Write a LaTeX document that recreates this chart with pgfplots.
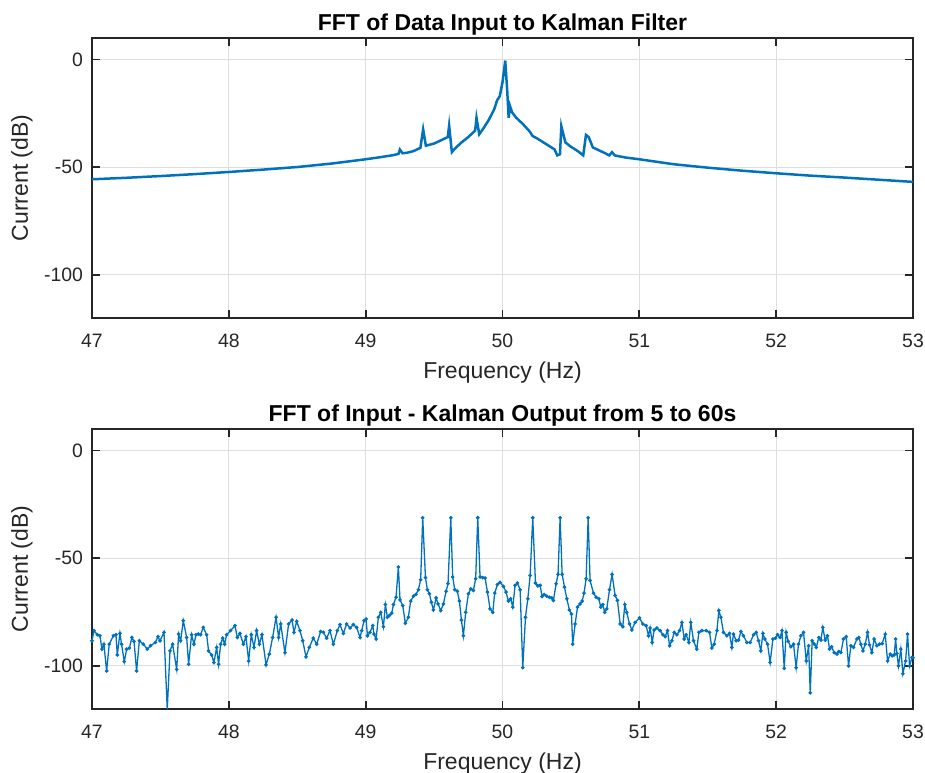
\documentclass[border=0pt]{standalone}
\usepackage{fontspec}
\setmainfont{Liberation Sans}
\usepackage{pgfplots}
\pgfplotsset{compat=1.18}
\definecolor{mblue}{RGB}{0,114,189}
\definecolor{axgray}{RGB}{38,38,38}
\definecolor{gridgray}{RGB}{222,222,222}
\pgfplotsset{mystyle/.style={
  scale only axis, width=410.5pt, height=140pt,
  xmin=47, xmax=53, ymin=-120, ymax=10,
  xtick={47,48,49,50,51,52,53}, ytick={-100,-50,0},
  grid=major, major grid style={gridgray, line width=0.5pt},
  axis line style={axgray, line width=0.9pt},
  tick style={axgray, line width=0.9pt},
  major tick length=4pt, tick align=inside, tick pos=both,
  /pgf/number format/assume math mode=true,
  tick label style={font=\fontsize{9.7}{11}\selectfont, text=axgray},
  xticklabel style={anchor=base, yshift=-14.5pt},
  yticklabel style={xshift=-1pt},
  label style={font=\fontsize{11.5}{13}\selectfont, text=axgray},
  xlabel={Frequency (Hz)}, ylabel={Current (dB)},
  xlabel style={at={(axis description cs:0.5,0)}, anchor=base, yshift=-30pt},
  ylabel style={at={(axis description cs:-0.0853,0.5)}, anchor=center},
  title style={font=\bfseries\fontsize{11.5}{13}\selectfont, at={(axis description cs:0.5,1)}, anchor=base, yshift=-2pt},
}}
\begin{document}
\begin{tikzpicture}
\path[use as bounding box] (-46pt,19pt) rectangle (416.5pt,-367pt);
\begin{axis}[mystyle, at={(0,0)}, anchor=north west,
  title={FFT of Data Input to Kalman Filter}]
\addplot[mblue, line width=1.25pt] coordinates {
(47.0,-55.6) (47.25,-54.9) (47.5,-54.1) (47.75,-53.2) (48.0,-52.2) (48.25,-51.1)
(48.5,-49.9) (48.75,-48.3) (49.0,-46.3) (49.1,-45.4) (49.2,-44.4) (49.24,-43.8)
(49.25,-41.8) (49.27,-43.5) (49.3,-43.3) (49.35,-42.5) (49.4,-41.0) (49.42,-32.4)
(49.44,-40.0) (49.5,-39.0) (49.55,-37.5) (49.6,-36.0) (49.61,-30.6) (49.63,-43.0)
(49.65,-41.5) (49.7,-38.5) (49.75,-36.0) (49.8,-33.0) (49.81,-27.0) (49.83,-34.7)
(49.86,-32.0) (49.9,-28.0) (49.94,-23.0) (49.96,-19.0) (49.98,-17.0) (50.0,-10.5)
(50.02,-0.5) (50.035,-15.0) (50.045,-27.0) (50.055,-21.6) (50.07,-24.5) (50.1,-27.0)
(50.15,-30.0) (50.2,-33.5) (50.22,-35.5) (50.25,-36.5) (50.3,-38.5) (50.35,-40.5)
(50.38,-41.7) (50.40,-44.5) (50.42,-44.0) (50.43,-30.9) (50.46,-38.5) (50.5,-40.5)
(50.55,-42.5) (50.59,-44.5) (50.61,-35.0) (50.63,-36.0) (50.66,-40.8) (50.7,-42.0)
(50.75,-43.5) (50.78,-44.5) (50.8,-43.0) (50.82,-44.5) (50.9,-45.5) (51.0,-46.3)
(51.25,-48.6) (51.5,-50.2) (51.75,-51.6) (52.0,-52.8) (52.25,-53.9) (52.5,-54.8)
(52.75,-55.8) (53.0,-56.8)
};
\end{axis}
\begin{axis}[mystyle, at={(0,-195.5pt)}, anchor=north west,
  title={FFT of Input - Kalman Output from 5 to 60s}]
\addplot[mblue, line width=0.65pt, mark=*, mark size=0.55pt, mark options={mblue}] coordinates {
(47.000,-88.3) (47.014,-83.6) (47.039,-85.5) (47.058,-86.0) (47.073,-92.2) (47.087,-89.9)
(47.107,-102.3) (47.126,-89.9) (47.156,-86.0) (47.175,-85.5) (47.185,-94.9) (47.204,-84.9)
(47.216,-89.9) (47.236,-98.0) (47.253,-92.2) (47.273,-91.7) (47.292,-86.8) (47.307,-88.6)
(47.326,-102.3) (47.346,-88.3) (47.375,-89.9) (47.404,-92.2) (47.428,-90.6) (47.463,-89.1)
(47.482,-86.4) (47.497,-88.3) (47.526,-84.4) (47.550,-120.2) (47.570,-93.0) (47.589,-89.9)
(47.619,-101.6) (47.633,-85.2) (47.648,-88.3) (47.667,-79.0) (47.692,-86.8) (47.706,-99.2)
(47.728,-85.5) (47.745,-89.9) (47.760,-85.5) (47.777,-85.2) (47.794,-85.5) (47.813,-82.1)
(47.838,-85.5) (47.852,-93.0) (47.874,-94.9) (47.891,-98.4) (47.911,-91.4) (47.925,-99.2)
(47.940,-89.9) (47.955,-87.1) (47.969,-89.9) (47.984,-85.5) (48.013,-83.6) (48.045,-81.3)
(48.062,-86.8) (48.081,-84.9) (48.106,-89.9) (48.125,-86.4) (48.145,-97.7) (48.164,-85.5)
(48.184,-91.4) (48.203,-83.6) (48.223,-89.9) (48.242,-85.5) (48.272,-99.5) (48.296,-94.5)
(48.320,-86.8) (48.345,-77.4) (48.364,-86.8) (48.379,-80.5) (48.410,-93.8) (48.437,-80.5)
(48.462,-78.7) (48.476,-84.4) (48.496,-79.3) (48.520,-83.6) (48.540,-88.3) (48.564,-95.8)
(48.588,-91.4) (48.617,-87.1) (48.642,-89.9) (48.671,-84.0) (48.691,-84.4) (48.715,-87.1)
(48.739,-83.6) (48.764,-89.9) (48.793,-83.6) (48.812,-80.8) (48.837,-84.9) (48.861,-80.5)
(48.886,-82.4) (48.910,-80.8) (48.934,-82.1)
(48.959,-86.8) (48.971,-83.6) (48.988,-79.0) (49.003,-78.2) (49.013,-86.0) (49.032,-84.4)
(49.052,-81.3) (49.061,-85.2) (49.076,-87.5) (49.093,-77.4) (49.110,-75.1) (49.130,-81.8)
(49.144,-71.5) (49.159,-77.4) (49.173,-76.6) (49.190,-75.5) (49.203,-71.5) (49.222,-68.1)
(49.239,-54.1) (49.251,-69.3) (49.271,-72.0) (49.290,-80.2) (49.312,-77.4) (49.329,-69.9)
(49.349,-67.6) (49.368,-66.8) (49.385,-64.6) (49.402,-60.0) (49.417,-31.2) (49.437,-59.0)
(49.451,-64.6) (49.466,-66.5) (49.480,-70.4) (49.495,-74.0) (49.515,-68.4) (49.529,-71.2)
(49.549,-74.3) (49.568,-71.2) (49.588,-65.3) (49.602,-61.8) (49.622,-31.2) (49.636,-58.7)
(49.651,-64.6) (49.670,-65.3) (49.685,-69.9) (49.700,-78.7) (49.714,-86.0) (49.731,-75.1)
(49.751,-66.5) (49.768,-64.2) (49.787,-65.0) (49.804,-59.5) (49.819,-31.2) (49.836,-58.7)
(49.856,-59.0) (49.873,-59.2) (49.890,-65.7) (49.909,-73.5) (49.929,-75.1) (49.943,-66.2)
(49.963,-62.2) (49.982,-61.2) (50.007,-63.1) (50.026,-65.7) (50.043,-69.9) (50.060,-68.8)
(50.075,-72.7) (50.092,-62.6) (50.109,-61.5) (50.129,-64.6) (50.148,-100.8) (50.168,-77.4)
(50.185,-68.8) (50.202,-58.0) (50.221,-31.2) (50.241,-61.5) (50.258,-62.8) (50.275,-62.6)
(50.289,-67.8) (50.304,-66.8) (50.323,-67.6) (50.343,-68.1) (50.360,-68.4) (50.372,-69.6)
(50.392,-61.8) (50.406,-57.5) (50.421,-31.2) (50.436,-57.5) (50.453,-63.4) (50.470,-68.8)
(50.489,-74.0) (50.504,-75.9) (50.513,-89.9) (50.531,-80.5) (50.548,-72.7) (50.567,-71.2)
(50.582,-69.9) (50.596,-66.2) (50.611,-59.5) (50.626,-31.2) (50.640,-60.3) (50.665,-66.2)
(50.684,-68.1) (50.704,-68.8) (50.718,-72.7) (50.733,-71.5) (50.747,-75.1) (50.762,-73.5)
(50.782,-64.6) (50.801,-57.5) (50.823,-67.3) (50.840,-69.6) (50.860,-80.5) (50.879,-81.8)
(50.894,-71.5) (50.908,-75.1) (50.928,-80.5) (50.945,-83.3) (50.969,-79.8) (51.001,-77.7)
(51.026,-80.5) (51.050,-81.3) (51.067,-86.0) (51.079,-82.4) (51.094,-89.1) (51.108,-83.3)
(51.128,-82.4) (51.152,-83.6) (51.172,-85.5) (51.189,-86.4) (51.206,-83.6) (51.221,-90.6)
(51.238,-88.3) (51.255,-84.4) (51.274,-85.5) (51.294,-83.6) (51.311,-79.8) (51.328,-87.5)
(51.342,-85.5) (51.362,-89.1) (51.376,-79.8) (51.396,-88.3) (51.420,-92.2) (51.435,-84.4)
(51.457,-83.6) (51.489,-83.6) (51.513,-84.4) (51.530,-91.7) (51.547,-89.9) (51.567,-83.6)
(51.581,-74.3) (51.596,-77.4) (51.615,-84.4) (51.640,-86.0) (51.659,-84.9) (51.676,-91.4)
(51.688,-85.2) (51.708,-88.3) (51.725,-88.0) (51.742,-84.0) (51.761,-86.0) (51.786,-89.1)
(51.810,-89.1) (51.835,-85.5) (51.854,-84.4) (51.871,-88.3) (51.888,-93.0) (51.903,-84.9)
(51.917,-87.5) (51.937,-89.9) (51.956,-98.4) (51.976,-87.5) (51.995,-87.1) (52.010,-85.5)
(52.029,-86.8) (52.042,-83.6) (52.059,-101.1) (52.073,-84.4) (52.088,-88.6) (52.107,-91.1)
(52.127,-89.9) (52.146,-100.8) (52.163,-89.9) (52.181,-86.0) (52.200,-84.4) (52.220,-97.7)
(52.237,-90.6) (52.249,-112.5) (52.263,-88.3) (52.278,-89.9) (52.293,-91.4) (52.312,-86.8)
(52.327,-88.0) (52.341,-82.1) (52.358,-88.0) (52.375,-86.0) (52.390,-92.2) (52.405,-91.1)
(52.424,-93.8) (52.444,-94.5) (52.458,-93.3) (52.473,-93.8) (52.492,-87.5) (52.512,-86.4)
(52.529,-100.0) (52.546,-90.6) (52.565,-91.4) (52.590,-87.5) (52.604,-86.8) (52.619,-89.9)
(52.634,-93.0) (52.651,-89.9) (52.668,-84.4) (52.682,-90.2) (52.699,-93.8) (52.716,-87.5)
(52.736,-90.6) (52.755,-89.9) (52.775,-89.6) (52.797,-85.2) (52.814,-97.7) (52.834,-94.5)
(52.848,-95.3) (52.863,-94.9) (52.873,-87.5) (52.882,-94.2) (52.894,-100.0) (52.911,-92.2)
(52.926,-103.6) (52.946,-97.7) (52.960,-85.2) (52.975,-100.0) (52.992,-96.1) (53.000,-96.1)
};
\end{axis}
\end{tikzpicture}
\end{document}
